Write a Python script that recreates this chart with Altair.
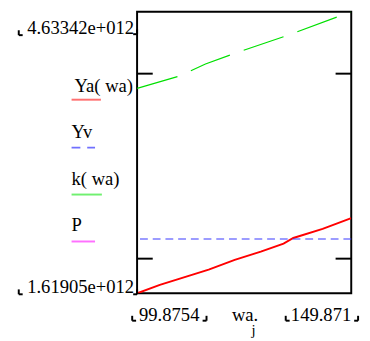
import altair as alt
import pandas as pd

# ---- data ----
wa_min, wa_max = 99.8754, 149.871
y_min, y_max = 1.61905e12, 4.63342e12

ya_wa = [99.8754, 105.19, 116.59, 122.67, 128.76, 134.07, 136.35, 143.19, 149.871]
ya_val = [1.61905e12, 1.7099e12, 1.8727e12, 1.9772e12, 2.0649e12, 2.1515e12, 2.2110e12, 2.3081e12, 2.4230e12]
k_wa = [99.8754, 109.75, 115.84, 122.67, 135.6, 149.871]
k_val = [3.8117e12, 3.9443e12, 4.0727e12, 4.1876e12, 4.3891e12, 4.63342e12]
yv_val = [2.2006e12]
tick_vals = [3.97e12, 1.99e12]
y_tick_labels = ["4.63342e+012", "1.61905e+012"]
y_tick_pos = [y_max, y_min]
x_tick_labels = ["99.8754", "149.871"]
x_tick_pos = [wa_min, wa_max]
legend_labels = ["Ya( wa)", "Yv", "k( wa)", "P"]
legend_colors = ["#ff7070", "#7070ff", "#70f070", "#ff70ff"]

FONT = "Times New Roman, Liberation Serif, serif"
FS = 19
W, H = 219, 288

xs = alt.Scale(domain=[wa_min, wa_max], nice=False, zero=False)
ys = alt.Scale(domain=[y_min, y_max], nice=False, zero=False)

def X(f="wa"):
    return alt.X(f + ":Q", scale=xs, axis=None)

def Y(f="val"):
    return alt.Y(f + ":Q", scale=ys, axis=None)

one = pd.DataFrame({"a": [0]})

ya_df = pd.DataFrame({"wa": ya_wa, "val": ya_val})
k_df = pd.DataFrame({"wa": k_wa, "val": k_val})
yv_df = pd.DataFrame({"val": yv_val})
tick_df = pd.DataFrame({"val": tick_vals})

frame = alt.Chart(one).mark_rect(fill="white", stroke="black", strokeWidth=2).encode(
    x=alt.value(0), x2=alt.value(W), y=alt.value(0), y2=alt.value(H))

red = alt.Chart(ya_df).mark_line(color="#ff0000", strokeWidth=2, clip=True).encode(x=X(), y=Y())
green = alt.Chart(k_df).mark_line(color="#00e000", strokeWidth=1.2, strokeDash=[43, 15], clip=True).encode(x=X(), y=Y())
blue = alt.Chart(yv_df).mark_rule(color="#3a3aff", strokeWidth=1.2, strokeDash=[8, 5]).encode(y=Y())

lt = alt.Chart(tick_df).mark_rule(color="black", strokeWidth=2).encode(y=Y(), x=alt.value(0), x2=alt.value(16))
rt = alt.Chart(tick_df).mark_rule(color="black", strokeWidth=2).encode(y=Y(), x=alt.value(W - 16), x2=alt.value(W))

ytop = alt.Chart(pd.DataFrame({"val": [y_tick_pos[0]], "t": [y_tick_labels[0]]})).mark_text(
    font=FONT, fontSize=FS, align="right", baseline="alphabetic", dx=-3, dy=23, color="black"
).encode(y=Y(), x=alt.value(0), text="t:N")
ybot = alt.Chart(pd.DataFrame({"val": [y_tick_pos[1]], "t": [y_tick_labels[1]]})).mark_text(
    font=FONT, fontSize=FS, align="right", baseline="alphabetic", dx=-3, dy=0, color="black"
).encode(y=Y(), x=alt.value(0), text="t:N")

xl = alt.Chart(pd.DataFrame({"wa": [x_tick_pos[0]], "t": [x_tick_labels[0]]})).mark_text(
    font=FONT, fontSize=FS, align="left", baseline="alphabetic", dx=2, color="black"
).encode(x=X(), y=alt.value(316), text="t:N")
xr = alt.Chart(pd.DataFrame({"wa": [x_tick_pos[1]], "t": [x_tick_labels[1]]})).mark_text(
    font=FONT, fontSize=FS, align="right", baseline="alphabetic", dx=0, color="black"
).encode(x=X(), y=alt.value(316), text="t:N")

xt = alt.Chart(pd.DataFrame({"t": ["wa."]})).mark_text(
    font=FONT, fontSize=FS, align="left", baseline="alphabetic", color="black"
).encode(x=alt.value(97), y=alt.value(316), text="t:N")
xsub = alt.Chart(pd.DataFrame({"t": ["j"]})).mark_text(
    font=FONT, fontSize=FS - 4, align="left", baseline="alphabetic", color="black"
).encode(x=alt.value(117), y=alt.value(331), text="t:N")

layers = [frame, red, green, blue, lt, rt, ytop, ybot, xl, xr, xt, xsub]

# Mathcad-style corner brackets around the limit labels
brackets = [(-121, 24, "L"), (0, 23, "R"), (-121, 289, "L"), (0, 289, "R"),
            (-5, 316, "L"), (71, 316, "R"), (152, 316, "L"), (226, 316, "R")]
for bx, by, side in brackets:
    hx = bx + 4 if side == "L" else bx - 4
    layers.append(alt.Chart(one).mark_rule(color="black", strokeWidth=2).encode(
        x=alt.value(bx), y=alt.value(by - 5), y2=alt.value(by)))
    layers.append(alt.Chart(one).mark_rule(color="black", strokeWidth=2).encode(
        x=alt.value(min(bx, hx)), x2=alt.value(max(bx, hx)), y=alt.value(by)))

leg_text_x = [-64, -67, -67, -67]
leg_text_y = [82, 129, 177, 224]
leg_line_y = [90, 139, 187, 235]
leg_line_x2 = [-37, -43, -36, -43]
leg_dash = [None, [9, 7], None, None]
for i, lab in enumerate(legend_labels):
    d = pd.DataFrame({"t": [lab]})
    layers.append(alt.Chart(d).mark_text(font=FONT, fontSize=FS, align="left", baseline="alphabetic", color="black")
                  .encode(x=alt.value(leg_text_x[i]), y=alt.value(leg_text_y[i]), text="t:N"))
    kw = dict(color=legend_colors[i], strokeWidth=2)
    if leg_dash[i]:
        kw["strokeDash"] = leg_dash[i]
    layers.append(alt.Chart(d).mark_rule(**kw)
                  .encode(x=alt.value(-67), x2=alt.value(leg_line_x2[i]), y=alt.value(leg_line_y[i])))

chart = alt.layer(*layers).properties(
    width=W, height=H,
    background="white",
    autosize=alt.AutoSizeParams(type="none"),
    padding={"left": 132, "top": 0, "right": 11, "bottom": 45},
).configure_view(stroke=None)

chart.save("out.html", embed_options={"renderer": "svg", "actions": False})
